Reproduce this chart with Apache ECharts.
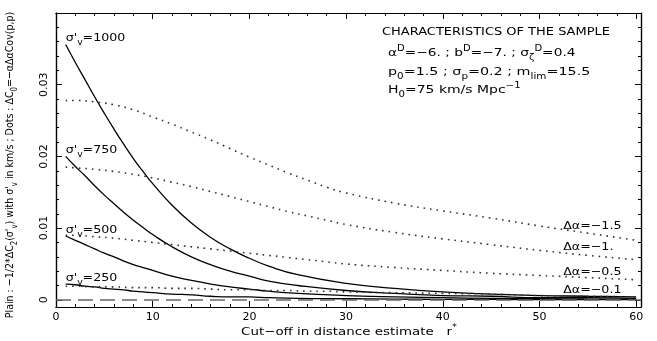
<!DOCTYPE html>
<html>
<head>
<meta charset="utf-8">
<script src="https://cdn.jsdelivr.net/npm/echarts@6/dist/echarts.min.js"></script>
<style>html,body{margin:0;padding:0;background:#fff}#c{width:657px;height:341px}</style>
</head>
<body>
<div id="c"></div>
<script>
// ---- data ----
const xSolid = [1,2,3,4,5,6,7,8,9,10,12,14,16,18,20,22,25,30,35,40,45,50,55,60];
const sigma1000 = [0.0356,0.0331,0.0307,0.0283,0.0260,0.0238,0.0217,0.0197,0.0179,0.0162,0.0132,0.0107,0.0087,0.0071,0.0058,0.0047,0.0035,0.0023,0.0016,0.0011,0.0008,0.0006,0.0005,0.0004];
const sigma750  = [0.0200,0.0186,0.0173,0.0159,0.0146,0.0134,0.0122,0.0111,0.0101,0.0091,0.0074,0.0060,0.0049,0.0040,0.0033,0.0026,0.0020,0.0013,0.0009,0.0006,0.0005,0.0003,0.0003,0.0002];
const sigma500  = [0.0089,0.0083,0.0077,0.0071,0.0065,0.0060,0.0054,0.0049,0.0045,0.0041,0.0033,0.0027,0.0022,0.0018,0.0015,0.0012,0.0009,0.0006,0.0004,0.0003,0.0002,0.00015,0.00012,0.0001];
const sigma250  = [0.0022,0.0021,0.0019,0.0018,0.0016,0.0015,0.0014,0.0012,0.0011,0.0010,0.0008,0.0007,0.0005,0.0004,0.0004,0.0003,0.0002,0.00015,0.0001,0.00007,0.00005,0.00004,0.00003,0.00002];
const sigmaNames = ['1000','750','500','250'];

const xDots = [1,2,4,6,8,10,12,14,16,18,20,22,24,26,28,30,35,40,45,50,55,60];
const da15 = [0.0278,0.0278,0.0276,0.0272,0.0265,0.0255,0.0245,0.0234,0.0223,0.0211,0.0199,0.0188,0.0177,0.0167,0.0157,0.0149,0.0135,0.0124,0.0114,0.0103,0.0093,0.0083];
const da10 = [0.0185,0.0184,0.0182,0.0179,0.0175,0.0170,0.0164,0.0158,0.0151,0.0144,0.0137,0.0130,0.0123,0.0117,0.0111,0.0105,0.0094,0.0085,0.0077,0.0069,0.0062,0.0056];
const da05 = [0.0090,0.0090,0.0088,0.0086,0.0083,0.0080,0.0077,0.0074,0.0071,0.0068,0.0065,0.0062,0.0059,0.0056,0.0053,0.0050,0.0045,0.0041,0.0037,0.0034,0.0031,0.0028];
const da01 = [0.0019,0.0019,0.0018,0.0018,0.0017,0.0017,0.0016,0.0016,0.0015,0.0014,0.0014,0.0013,0.0013,0.0012,0.0012,0.0011,0.0010,0.0009,0.0008,0.0006,0.0005,0.0004];
const daNames = ['−1.5','−1.','−0.5','−0.1'];

const xMajor = [0,10,20,30,40,50,60];
const xMinor = [2,4,6,8,12,14,16,18,22,24,26,28,32,34,36,38,42,44,46,48,52,54,56,58];
const yMajor = [0,0.01,0.02,0.03];
const yMinor = [0.002,0.004,0.006,0.008,0.012,0.014,0.016,0.018,0.022,0.024,0.026,0.028,0.032,0.034,0.036,0.038];

// ---- chart ----
const FONT = 'DejaVu Sans';
const pair = (xs, ys) => xs.map((x, i) => [x, ys[i]]);
function mkRich(fs) {
  const lh = Math.round(fs * 1.5);
  return {
    n: {fontSize: fs, fontFamily: FONT, fill: '#000', color: '#000', lineHeight: lh, verticalAlign: 'middle'},
    sub: {fontSize: Math.round(fs * 0.75), fontFamily: FONT, fill: '#000', color: '#000', lineHeight: lh, verticalAlign: 'bottom'},
    sup: {fontSize: Math.round(fs * 0.75), fontFamily: FONT, fill: '#000', color: '#000', lineHeight: lh, verticalAlign: 'top'}
  };
}
const rich11 = mkRich(11);

const solidSets = [sigma1000, sigma750, sigma500, sigma250];
const dotSets = [da15, da10, da05, da01];

const series = [];
solidSets.forEach((ys, k) => {
  series.push({
    type: 'line', name: 'sigma' + sigmaNames[k], data: pair(xSolid, ys),
    smooth: 0.5, showSymbol: false, symbol: 'none', silent: true,
    lineStyle: {color: '#000', width: 1.3}
  });
});
dotSets.forEach((ys, k) => {
  series.push({
    type: 'line', name: 'da' + daNames[k], data: pair(xDots, ys),
    smooth: 0.5, showSymbol: false, symbol: 'none', silent: true,
    lineStyle: {color: '#333', width: 1.6, type: [1.6, 5]}
  });
});
series[0].markLine = {
  silent: true, symbol: 'none', label: {show: false},
  lineStyle: {color: '#666', width: 1.5, type: [15, 7]},
  data: [{yAxis: 0}]
};

function xAx(pos, vals, len, labels) {
  return {
    type: 'value', min: 0, max: 60.5, position: pos,
    axisLine: {show: true, onZero: false, lineStyle: {color: '#000', width: 1.2}},
    axisTick: {show: true, inside: true, length: len, customValues: vals, lineStyle: {color: '#000', width: 1}},
    axisLabel: labels ? {show: true, customValues: xMajor, margin: 5, color: '#000', fontSize: 11, fontFamily: FONT} : {show: false},
    splitLine: {show: false}
  };
}
function yAx(pos, vals, len, labels) {
  return {
    type: 'value', min: -0.001, max: 0.04, position: pos,
    axisLine: {show: true, onZero: false, lineStyle: {color: '#000', width: 1.2}},
    axisTick: {show: true, inside: true, length: len, customValues: vals, lineStyle: {color: '#000', width: 1}},
    axisLabel: labels ? {show: true, customValues: yMajor, rotate: 90, margin: 6, color: '#000', fontSize: 11, fontFamily: FONT,
      formatter: v => (Math.abs(v) < 1e-9 ? '0' : String(+v.toFixed(3)))} : {show: false},
    splitLine: {show: false}
  };
}

const option = {
  animation: false,
  backgroundColor: '#fff',
  grid: {left: 56, right: 16, top: 13, bottom: 34, containLabel: false, outerBoundsMode: 'none'},
  xAxis: [xAx('bottom', xMajor, 6, true), xAx('bottom', xMinor, 3, false), xAx('top', xMajor, 6, false), xAx('top', xMinor, 3, false)],
  yAxis: [yAx('left', yMajor, 6, true), yAx('left', yMinor, 3, false), yAx('right', yMajor, 6, false), yAx('right', yMinor, 3, false)],
  series: series
};
const chart = echarts.init(document.getElementById('c'), null, {renderer: 'canvas'});
chart.setOption(option);

// text annotations (labels positioned from the data through the chart's scales)
function txt(x, y, text, opts) {
  return Object.assign({
    type: 'text', x: x, y: y, silent: true,
    style: {text: text, rich: rich11, align: 'left', verticalAlign: 'middle', font: '11px "DejaVu Sans"', fill: '#000'}
  }, opts || {});
}
const g = [];
solidSets.forEach((ys, k) => {
  const p = chart.convertToPixel({xAxisIndex: 0, yAxisIndex: 0}, [xSolid[0], ys[0]]);
  g.push(txt(p[0], p[1] - 6, "{n|σ'}{sub|v}{n|=" + sigmaNames[k] + '}', {scaleX: 1.15}));
});
const daDy = [-14, -13, -8, -7];
dotSets.forEach((ys, k) => {
  const p = chart.convertToPixel({xAxisIndex: 0, yAxisIndex: 0}, [xDots[xDots.length - 1], ys[ys.length - 1]]);
  g.push(txt(p[0] - 73, p[1] + daDy[k], '{n|Δα=' + daNames[k] + '}', {scaleX: 1.15}));
});
g.push(txt(382, 32, '{n|CHARACTERISTICS OF THE SAMPLE}', {scaleX: 1.18}));
g.push(txt(388, 53, '{n|α}{sup|D}{n|=−6. ; b}{sup|D}{n|=−7. ; σ}{sub|ζ}{sup|D}{n|=0.4}', {scaleX: 1.25}));
g.push(txt(388, 72, '{n|p}{sub|0}{n|=1.5 ; σ}{sub|p}{n|=0.2 ; m}{sub|lim}{n|=15.5}', {scaleX: 1.3}));
g.push(txt(388, 90, '{n|H}{sub|0}{n|=75 km/s Mpc}{sup|−1}', {scaleX: 1.27}));
// axis titles
const xt = txt(349, 332, '{n|Cut−off in distance estimate   r}{sup|*}', {scaleX: 1.22});
xt.style.align = 'center';
g.push(xt);
const yt = txt(10, 165, "{n|Plain : −1/2*ΔC}{sub|2}{n|(σ'}{sub|v}{n|) with σ'}{sub|v}{n| in km/s ; Dots : ΔC}{sub|0}{n|=−αΔαCov(p,p)}", {rotation: Math.PI / 2, scaleX: 0.86});
yt.style.align = 'center';
g.push(yt);
chart.setOption({graphic: g});
</script>
</body>
</html>
